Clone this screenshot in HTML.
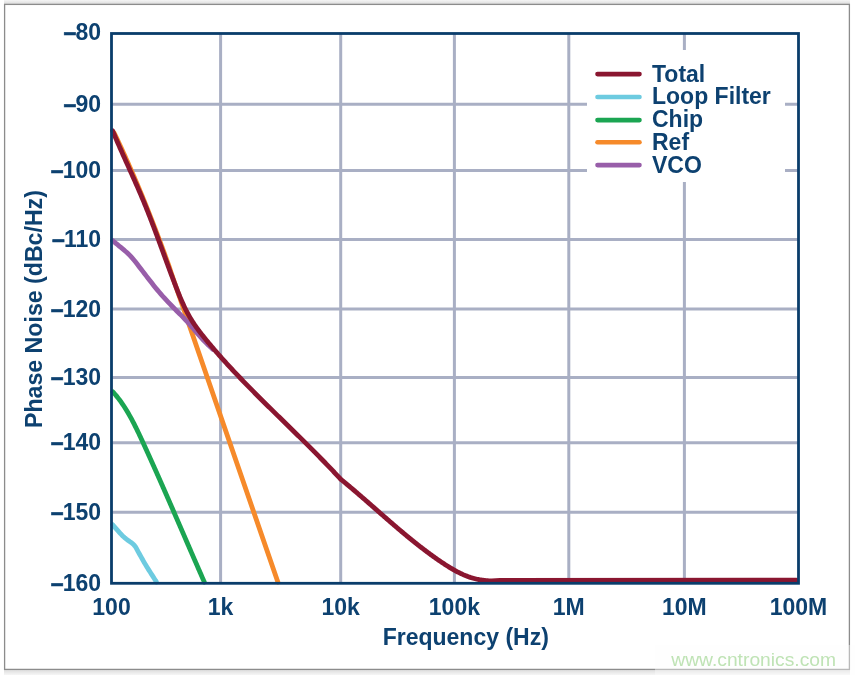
<!DOCTYPE html>
<html><head><meta charset="utf-8"><style>html,body{margin:0;padding:0;background:#fff;overflow:hidden}svg{display:block;will-change:transform}</style></head><body>
<svg width="855" height="675" viewBox="0 0 855 675">
<defs><linearGradient id="gt" x1="0" y1="0" x2="0" y2="1"><stop offset="0" stop-color="#f5f5f5"/><stop offset="1" stop-color="#d9d9d9"/></linearGradient><linearGradient id="gb" x1="0" y1="0" x2="0" y2="1"><stop offset="0" stop-color="#dedede"/><stop offset="1" stop-color="#f6f6f6"/></linearGradient></defs>
<rect x="0" y="0" width="855" height="675" fill="#fff"/>
<rect x="4" y="0" width="846" height="4.5" fill="url(#gt)"/>
<rect x="4" y="670" width="846" height="5" fill="url(#gb)"/>
<rect x="4.6" y="4.4" width="844.8" height="665" fill="#fff" stroke="#8c8c8c" stroke-width="1.3"/>
<g stroke="#a9afc4" stroke-width="3"><line x1="220.6" y1="33.5" x2="220.6" y2="583.3"/><line x1="340.7" y1="33.5" x2="340.7" y2="583.3"/><line x1="454.4" y1="33.5" x2="454.4" y2="583.3"/><line x1="568.8" y1="33.5" x2="568.8" y2="583.3"/><line x1="684.4" y1="33.5" x2="684.4" y2="583.3"/><line x1="111.5" y1="104.3" x2="798.5" y2="104.3"/><line x1="111.5" y1="170.4" x2="798.5" y2="170.4"/><line x1="111.5" y1="239.4" x2="798.5" y2="239.4"/><line x1="111.5" y1="309" x2="798.5" y2="309"/><line x1="111.5" y1="377.6" x2="798.5" y2="377.6"/><line x1="111.5" y1="442.7" x2="798.5" y2="442.7"/><line x1="111.5" y1="512.3" x2="798.5" y2="512.3"/></g>
<rect x="587" y="50" width="198" height="132" fill="#fff"/>
<g fill="none" stroke-width="4.8" stroke-linecap="round" stroke-linejoin="round">
<polyline stroke="#6dcbe0" points="112.50,524.50 112.59,524.60 112.76,524.80 113.02,525.10 113.36,525.50 113.79,526.00 114.30,526.60 114.91,527.30 115.59,528.10 116.27,528.89 116.95,529.66 117.61,530.42 118.27,531.16 118.91,531.89 119.55,532.60 120.19,533.31 120.81,533.99 121.44,534.66 122.06,535.30 122.69,535.92 123.31,536.51 123.94,537.08 124.56,537.63 125.19,538.15 125.81,538.65 126.42,539.13 127.02,539.58 127.59,540.02 128.16,540.43 128.70,540.82 129.23,541.19 129.75,541.54 130.25,541.86 130.74,542.20 131.22,542.55 131.69,542.91 132.16,543.29 132.61,543.68 133.05,544.08 133.49,544.49 133.91,544.91 134.33,545.37 134.74,545.87 135.14,546.39 135.53,546.96 135.92,547.55 136.30,548.18 136.67,548.85 137.03,549.55 137.46,550.37 137.96,551.30 138.53,552.34 139.17,553.51 139.88,554.78 140.65,556.18 141.49,557.69 142.41,559.31 143.30,560.89 144.19,562.42 145.06,563.91 145.92,565.34 146.76,566.73 147.59,568.08 148.40,569.38 149.20,570.62 149.97,571.83 150.71,572.98 151.42,574.09 152.10,575.16 152.75,576.17 153.38,577.14 153.97,578.06 154.53,578.94 155.02,579.70 155.45,580.36 155.80,580.91 156.08,581.34 156.29,581.67 156.43,581.89 156.50,582.00"/>
<polyline stroke="#1ba552" points="112.87,391.91 114.07,393.21 115.23,394.53 116.37,395.87 117.48,397.24 118.56,398.62 119.63,400.02 120.67,401.43 121.68,402.87 122.68,404.31 123.66,405.78 124.62,407.25 125.56,408.74 126.49,410.25 127.40,411.76 128.30,413.28 129.18,414.82 130.05,416.36 130.91,417.91 131.75,419.47 132.59,421.04 133.41,422.62 134.22,424.20 135.03,425.79 135.82,427.39 136.61,428.99 137.39,430.59 138.17,432.20 138.94,433.81 139.70,435.43 140.46,437.05 141.21,438.67 141.96,440.29 142.71,441.92 143.46,443.54 144.21,445.16 144.95,446.79 145.69,448.41 146.43,450.03 147.17,451.66 147.91,453.28 148.65,454.91 149.38,456.53 150.12,458.16 150.85,459.78 151.58,461.41 152.31,463.03 153.04,464.66 153.77,466.28 154.50,467.91 155.22,469.53 155.95,471.16 156.67,472.78 157.39,474.41 158.12,476.03 158.84,477.66 159.56,479.28 160.28,480.91 160.99,482.54 161.71,484.16 162.43,485.79 163.14,487.42 163.86,489.04 164.57,490.67 165.29,492.30 166.00,493.92 166.71,495.55 167.42,497.18 168.13,498.81 168.84,500.43 169.55,502.06 170.26,503.69 170.97,505.32 171.68,506.95 172.39,508.57 173.09,510.20 173.80,511.83 174.51,513.46 175.21,515.09 175.92,516.72 176.63,518.35 177.33,519.98 178.04,521.61 178.74,523.24 179.45,524.87 180.16,526.50 180.86,528.13 181.57,529.76 182.27,531.39 182.98,533.02 183.68,534.65 184.39,536.28 185.09,537.91 185.80,539.54 186.51,541.17 187.21,542.80 187.92,544.43 188.63,546.06 189.33,547.70 190.04,549.33 190.75,550.96 191.46,552.59 192.16,554.23 192.87,555.86 193.58,557.49 194.29,559.12 195.00,560.76 195.71,562.39 196.43,564.02 197.14,565.66 197.85,567.29 198.56,568.92 199.28,570.56 199.99,572.19 200.71,573.83 201.43,575.46 202.14,577.09 202.86,578.73 203.58,580.36 204.30,582.00"/>
<polyline stroke="#f68a2a" points="114.20,133.00 115.30,135.29 116.39,137.59 117.48,139.89 118.56,142.20 119.64,144.50 120.71,146.81 121.78,149.12 122.84,151.44 123.89,153.75 124.94,156.07 125.99,158.39 127.03,160.71 128.06,163.03 129.09,165.36 130.12,167.69 131.14,170.02 132.15,172.35 133.17,174.68 134.17,177.02 135.17,179.36 136.17,181.70 137.16,184.04 138.15,186.38 139.13,188.73 140.11,191.08 141.09,193.43 142.06,195.78 143.02,198.13 143.99,200.49 144.94,202.84 145.90,205.20 146.84,207.56 147.79,209.92 148.73,212.29 149.67,214.65 150.60,217.02 151.53,219.39 152.45,221.76 153.37,224.13 154.29,226.50 155.20,228.87 156.11,231.25 157.02,233.63 157.92,236.01 158.82,238.39 159.71,240.77 160.60,243.15 161.49,245.54 162.37,247.92 163.25,250.31 164.13,252.70 165.00,255.09 165.87,257.48 166.74,259.87 167.60,262.26 168.46,264.66 169.32,267.05 170.91,272.00 277.86,582.00"/>
<polyline stroke="#985ea9" points="112.50,240.60 112.63,240.71 112.90,240.92 113.30,241.25 113.83,241.68 114.49,242.22 115.29,242.86 116.22,243.62 117.28,244.48 118.37,245.37 119.48,246.28 120.61,247.22 121.77,248.18 122.95,249.17 124.15,250.18 125.38,251.22 126.62,252.28 127.95,253.51 129.34,254.90 130.80,256.45 132.33,258.17 133.93,260.05 135.60,262.10 137.34,264.31 139.16,266.69 140.97,269.05 142.78,271.41 144.59,273.77 146.41,276.11 148.22,278.45 150.03,280.77 151.84,283.09 153.66,285.41 155.47,287.67 157.28,289.88 159.09,292.04 160.91,294.16 162.72,296.22 164.53,298.23 166.34,300.19 168.16,302.11 169.92,303.95 171.64,305.74 173.31,307.46 174.94,309.12 176.52,310.71 178.05,312.24 179.53,313.70 180.97,315.10 182.48,316.62 184.05,318.27 185.70,320.03 187.42,321.92 189.21,323.93 191.07,326.06 193.00,328.31 195.00,330.69 196.92,332.93 198.77,335.04 200.53,337.02 202.22,338.86 203.83,340.57 205.36,342.15 206.81,343.59 208.19,344.91 209.39,346.05 210.42,347.04 211.28,347.86 211.97,348.52 212.48,349.01 212.83,349.34 213.00,349.50"/>
<polyline stroke="#8a1630" points="112.61,130.80 113.16,132.10 113.71,133.41 114.26,134.71 114.82,136.01 115.37,137.32 115.93,138.62 116.49,139.92 117.06,141.22 117.62,142.52 118.19,143.82 118.76,145.11 119.33,146.41 119.90,147.71 120.48,149.00 121.05,150.30 121.63,151.60 122.21,152.89 122.79,154.19 123.37,155.48 123.95,156.77 124.53,158.07 125.11,159.36 125.69,160.66 126.27,161.95 126.86,163.24 127.44,164.54 128.02,165.83 128.60,167.12 129.19,168.42 129.77,169.71 130.35,171.00 130.93,172.30 131.51,173.59 132.09,174.89 132.67,176.18 133.25,177.48 133.83,178.77 134.41,180.07 134.98,181.37 135.56,182.66 136.13,183.96 136.70,185.26 137.27,186.56 137.84,187.86 138.40,189.16 138.97,190.46 139.53,191.76 140.09,193.06 140.65,194.37 141.20,195.67 141.75,196.98 142.30,198.28 142.85,199.59 143.40,200.90 143.94,202.21 144.48,203.52 145.01,204.83 145.55,206.14 146.08,207.46 146.61,208.77 147.13,210.09 147.66,211.40 148.18,212.72 148.70,214.04 149.22,215.36 149.74,216.68 150.25,218.00 150.76,219.32 151.27,220.64 151.78,221.96 152.29,223.29 152.79,224.61 153.30,225.93 153.80,227.26 154.30,228.58 154.80,229.91 155.30,231.24 155.80,232.56 156.29,233.89 156.79,235.22 157.28,236.55 157.78,237.88 158.27,239.20 158.76,240.53 159.25,241.86 159.74,243.19 160.23,244.52 160.72,245.85 161.21,247.18 161.70,248.51 162.19,249.85 162.68,251.18 163.17,252.51 163.66,253.84 164.14,255.17 164.63,256.50 165.12,257.83 165.61,259.16 166.10,260.49 166.59,261.83 167.08,263.16 167.57,264.49 168.06,265.82 168.55,267.15 169.04,268.48 169.54,269.81 170.03,271.14 170.53,272.47 171.02,273.80 171.52,275.13 172.02,276.45 172.52,277.78 173.02,279.11 173.52,280.44 174.03,281.76 174.53,283.09 175.04,284.42 175.55,285.74 176.06,287.07 176.57,288.39 177.08,289.71 177.60,291.03 178.13,292.35 178.66,293.67 179.19,294.98 179.73,296.29 180.27,297.60 180.82,298.91 181.38,300.21 181.94,301.51 182.52,302.80 183.10,304.09 183.69,305.37 184.29,306.65 184.90,307.92 185.52,309.19 186.15,310.45 186.80,311.70 187.45,312.95 188.12,314.19 188.80,315.43 189.49,316.65 190.20,317.87 190.93,319.08 191.66,320.28 192.42,321.47 193.18,322.66 193.97,323.84 194.76,325.00 195.57,326.17 196.39,327.32 197.22,328.47 198.06,329.61 198.91,330.75 199.76,331.88 200.63,333.00 201.50,334.12 202.39,335.24 203.27,336.35 204.16,337.46 205.06,338.56 205.96,339.66 206.86,340.76 207.77,341.86 208.68,342.95 209.59,344.04 210.50,345.13 211.42,346.21 212.34,347.30 213.26,348.38 214.19,349.45 215.11,350.53 216.04,351.60 216.97,352.67 217.91,353.74 218.84,354.80 219.78,355.87 220.72,356.93 221.66,357.99 222.61,359.04 223.56,360.10 224.51,361.15 225.46,362.20 226.41,363.25 227.36,364.30 228.32,365.34 229.28,366.38 230.24,367.43 231.20,368.46 232.17,369.50 233.14,370.54 234.10,371.57 235.07,372.60 236.05,373.63 237.02,374.66 237.99,375.69 238.97,376.71 239.95,377.74 240.93,378.76 241.91,379.78 242.89,380.80 243.87,381.82 244.86,382.84 245.85,383.85 246.83,384.87 247.82,385.88 248.81,386.89 249.80,387.90 250.80,388.91 251.79,389.92 252.79,390.93 253.78,391.93 254.78,392.94 255.78,393.94 256.78,394.94 257.78,395.95 258.78,396.95 259.78,397.95 260.78,398.95 261.79,399.95 262.79,400.94 263.80,401.94 264.80,402.94 265.81,403.93 266.81,404.93 267.82,405.92 268.83,406.92 269.84,407.91 270.85,408.91 271.86,409.90 272.87,410.89 273.88,411.88 274.89,412.88 275.90,413.87 276.91,414.86 277.92,415.85 278.94,416.84 279.95,417.83 280.96,418.82 281.97,419.81 282.99,420.80 284.00,421.79 285.01,422.78 286.02,423.77 287.04,424.76 288.05,425.75 289.06,426.74 290.07,427.73 291.09,428.72 292.10,429.71 293.11,430.71 294.12,431.70 295.13,432.69 296.14,433.68 297.15,434.68 298.16,435.67 299.17,436.66 300.18,437.66 301.19,438.65 302.20,439.65 303.21,440.64 304.21,441.64 305.22,442.64 306.23,443.63 307.23,444.63 308.24,445.63 309.24,446.63 310.24,447.63 311.24,448.64 312.24,449.64 313.24,450.64 314.24,451.65 315.24,452.65 316.24,453.66 317.23,454.67 318.23,455.68 319.22,456.69 320.21,457.70 321.21,458.71 322.20,459.73 323.18,460.74 324.17,461.76 325.16,462.78 326.14,463.80 327.13,464.82 328.11,465.84 329.09,466.86 330.07,467.89 331.05,468.92 332.02,469.94 333.00,470.97 333.97,472.01 334.94,473.04 335.91,474.08 336.88,475.11 337.84,476.15 338.81,477.19 339.77,478.23 340.73,479.28 341.52,479.86 342.29,480.49 343.06,481.12 343.83,481.76 344.60,482.39 345.36,483.02 346.13,483.66 346.89,484.30 347.65,484.93 348.42,485.57 349.18,486.21 349.94,486.85 350.70,487.49 351.46,488.13 352.22,488.78 352.98,489.42 353.73,490.07 354.49,490.71 355.25,491.36 356.00,492.00 356.76,492.65 357.51,493.30 358.27,493.95 359.02,494.60 359.77,495.25 360.53,495.90 361.28,496.55 362.03,497.20 362.78,497.86 363.53,498.51 364.29,499.16 365.04,499.82 365.79,500.47 366.54,501.12 367.29,501.78 368.04,502.43 368.79,503.09 369.53,503.75 370.28,504.40 371.03,505.06 371.78,505.71 372.53,506.37 373.28,507.03 374.03,507.68 374.78,508.34 375.52,509.00 376.27,509.65 377.02,510.31 377.77,510.97 378.52,511.62 379.27,512.28 380.02,512.94 380.77,513.59 381.52,514.25 382.26,514.91 383.01,515.56 383.76,516.22 384.51,516.87 385.27,517.53 386.02,518.18 386.77,518.84 387.52,519.49 388.27,520.14 389.02,520.80 389.78,521.45 390.53,522.10 391.28,522.75 392.04,523.40 392.79,524.06 393.55,524.71 394.30,525.35 395.06,526.00 395.82,526.65 396.58,527.30 397.33,527.95 398.09,528.59 398.85,529.24 399.61,529.88 400.37,530.52 401.14,531.17 401.90,531.81 402.66,532.45 403.43,533.09 404.19,533.73 404.96,534.37 405.72,535.00 406.49,535.64 407.26,536.27 408.03,536.91 408.80,537.54 409.57,538.17 410.35,538.80 411.12,539.43 411.90,540.06 412.67,540.69 413.45,541.31 414.23,541.94 415.01,542.56 415.79,543.18 416.57,543.80 417.35,544.42 418.14,545.04 418.92,545.65 419.71,546.27 420.50,546.88 421.29,547.49 422.08,548.10 422.87,548.71 423.67,549.31 424.46,549.92 425.26,550.52 426.06,551.12 426.86,551.72 427.66,552.32 428.46,552.92 429.26,553.51 430.07,554.10 430.88,554.69 431.69,555.28 432.50,555.87 433.31,556.46 434.13,557.04 434.94,557.62 435.76,558.20 436.58,558.77 437.40,559.35 438.22,559.92 439.05,560.49 439.88,561.06 440.70,561.63 441.54,562.19 442.37,562.75 443.20,563.31 444.04,563.86 444.88,564.42 445.72,564.96 446.56,565.50 447.41,566.04 448.26,566.58 449.11,567.10 449.96,567.63 450.82,568.14 451.68,568.65 452.54,569.16 453.40,569.66 454.27,570.15 455.14,570.63 456.01,571.10 456.89,571.57 457.77,572.03 458.65,572.48 459.54,572.92 460.43,573.36 461.32,573.78 462.21,574.19 463.11,574.60 464.02,574.99 464.92,575.37 465.83,575.74 466.75,576.10 467.66,576.45 468.58,576.79 469.51,577.11 470.44,577.42 471.37,577.72 472.31,578.01 473.25,578.28 474.20,578.54 475.15,578.78 476.10,579.01 477.06,579.23 478.02,579.43 478.99,579.62 479.96,579.79 480.93,579.95 481.91,580.10 482.89,580.24 483.87,580.36 484.86,580.47 485.85,580.57 486.84,580.66 487.83,580.73 488.83,580.79 489.83,580.84 490.83,580.88 491.84,580.91 500.00,580.40 796.50,580.20"/>
</g>
<rect x="111.5" y="33.5" width="687.0" height="549.8" fill="none" stroke="#0a3d6b" stroke-width="2.8"/>
<line x1="597.5" y1="74.1" x2="639.5" y2="74.1" stroke="#8a1630" stroke-width="4.6" stroke-linecap="round"/>
<line x1="597.5" y1="97" x2="639.5" y2="97" stroke="#6dcbe0" stroke-width="4.6" stroke-linecap="round"/>
<line x1="597.5" y1="120.1" x2="639.5" y2="120.1" stroke="#1ba552" stroke-width="4.6" stroke-linecap="round"/>
<line x1="597.5" y1="142.3" x2="639.5" y2="142.3" stroke="#f68a2a" stroke-width="4.6" stroke-linecap="round"/>
<line x1="597.5" y1="165.1" x2="639.5" y2="165.1" stroke="#985ea9" stroke-width="4.6" stroke-linecap="round"/>
<g fill="#0d4170" font-family="'Liberation Sans', sans-serif" font-weight="bold" font-size="23"><text x="652" y="81.6">Total</text><text x="652" y="104.4">Loop Filter</text><text x="652" y="127.2">Chip</text><text x="652" y="150.2">Ref</text><text x="652" y="173.1">VCO</text><text x="101" y="40.4" text-anchor="end"><tspan stroke="#0d4170" stroke-width="0.6">–</tspan><tspan dx="-1">80</tspan></text><text x="101" y="111.9" text-anchor="end"><tspan stroke="#0d4170" stroke-width="0.6">–</tspan><tspan dx="-1">90</tspan></text><text x="101" y="178.0" text-anchor="end"><tspan stroke="#0d4170" stroke-width="0.6">–</tspan><tspan dx="-1">100</tspan></text><text x="101" y="247.0" text-anchor="end"><tspan stroke="#0d4170" stroke-width="0.6">–</tspan><tspan dx="-1">110</tspan></text><text x="101" y="316.6" text-anchor="end"><tspan stroke="#0d4170" stroke-width="0.6">–</tspan><tspan dx="-1">120</tspan></text><text x="101" y="385.2" text-anchor="end"><tspan stroke="#0d4170" stroke-width="0.6">–</tspan><tspan dx="-1">130</tspan></text><text x="101" y="450.3" text-anchor="end"><tspan stroke="#0d4170" stroke-width="0.6">–</tspan><tspan dx="-1">140</tspan></text><text x="101" y="519.9" text-anchor="end"><tspan stroke="#0d4170" stroke-width="0.6">–</tspan><tspan dx="-1">150</tspan></text><text x="101" y="590.9" text-anchor="end"><tspan stroke="#0d4170" stroke-width="0.6">–</tspan><tspan dx="-1">160</tspan></text><text x="111.5" y="615.3" text-anchor="middle">100</text><text x="220.6" y="615.3" text-anchor="middle">1k</text><text x="340.7" y="615.3" text-anchor="middle">10k</text><text x="454.4" y="615.3" text-anchor="middle">100k</text><text x="568.8" y="615.3" text-anchor="middle">1M</text><text x="684.4" y="615.3" text-anchor="middle">10M</text><text x="798.5" y="615.3" text-anchor="middle">100M</text><text x="382.7" y="645.3">Frequency (Hz)</text><text transform="translate(41.9,428) rotate(-90)" x="0" y="0" font-size="23.15">Phase Noise (dBc/Hz)</text></g>
<rect x="655" y="645" width="200" height="30" fill="#fdfdfd" fill-opacity="0.4"/>
<text x="671.3" y="665.5" fill="#bfe3b5" font-family="'Liberation Sans', sans-serif" font-size="19.25">www.cntronics.com</text>
</svg>
</body></html>
